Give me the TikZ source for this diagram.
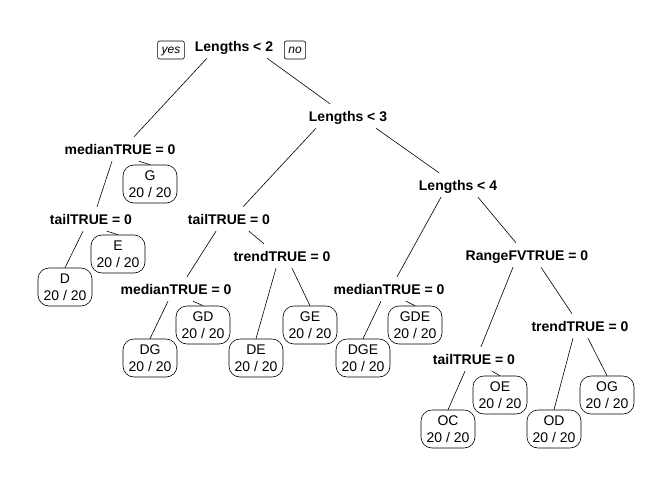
\documentclass[tikz,border=0pt]{standalone}
\usepackage{fontspec}
\setmainfont{Liberation Sans}
\tikzset{
  split/.style={font=\fontsize{14}{17}\selectfont\bfseries, inner sep=0pt,
    minimum height=24pt, text height=10pt, text depth=0pt},
  leaf/.style={draw, line width=0.6pt, rounded corners=11pt, align=center,
    font=\fontsize{14}{17}\selectfont, minimum width=54pt, minimum height=38pt, inner sep=2pt},
  yesno/.style={draw, line width=0.6pt, rounded corners=2pt, inner xsep=4pt, inner ysep=0pt,
    font=\fontsize{12}{14}\selectfont\itshape, minimum height=18pt, text height=9pt, text depth=2pt},
  branch/.style={line width=0.6pt}
}
\begin{document}
\begin{tikzpicture}[x=1pt,y=-1pt]
    \useasboundingbox (0,0) rectangle (672,480);
    % split labels
    \node[split] (len2) at (234,46) {Lengths < 2};
    \node[yesno] (yes) at (171,50) {yes};
    \node[yesno] (no) at (295,50) {no};
    \node[split] (med1) at (120,149) {medianTRUE = 0};
    \node[split] (len3) at (348,116) {Lengths < 3};
    \node[split] (tail1) at (91,219) {tailTRUE = 0};
    \node[split] (tail2) at (229,219) {tailTRUE = 0};
    \node[split] (trend1) at (282,256) {trendTRUE = 0};
    \node[split] (med2) at (176,289) {medianTRUE = 0};
    \node[split] (len4) at (458,185) {Lengths < 4};
    \node[split] (med3) at (389,289) {medianTRUE = 0};
    \node[split] (rangefv) at (527,255) {RangeFVTRUE = 0};
    \node[split] (trend2) at (580,326) {trendTRUE = 0};
    \node[split] (tail3) at (474,359) {tailTRUE = 0};
    % leaves
    \foreach \name/\x/\y in {G/150/184, E/118/254, D/65/287, GD/203/325, DG/150/358,
        DE/256/358, GE/310/325, GDE/415/325, DGE/363/358, OE/500/395, OC/448/429,
        OD/554/429, OG/607/395}
    {
        \node[leaf] (\name) at (\x,\y) {\name\\20 / 20};
    }
    % branches
    \foreach \a/\da/\b/\db in {len2/-27/med1/14, len2/33/len3/-18, med1/-8/tail1/6,
        len3/-32/tail2/14, len3/28/len4/-19, tail2/-13/med2/11, tail2/20/trend1/-18,
        len4/-17/med3/8, len4/20/rangefv/-11, rangefv/-14/tail3/7, rangefv/14/trend2/-8}
    {
        \draw[branch] ([xshift=\da]\a.south) -- ([xshift=\db]\b.north);
    }
    \foreach \a/\da/\b in {med1/19/G, tail1/-8/D, tail1/16/E, med2/-8/DG, med2/17/GD,
        trend1/-6/DE, trend1/10/GE, med3/-8/DGE, med3/17/GDE, tail3/-9/OC, tail3/18/OE,
        trend2/-7/OD, trend2/8/OG}
    {
        \draw[branch] ([xshift=\da]\a.south) -- (\b.north);
    }
\end{tikzpicture}
\end{document}
